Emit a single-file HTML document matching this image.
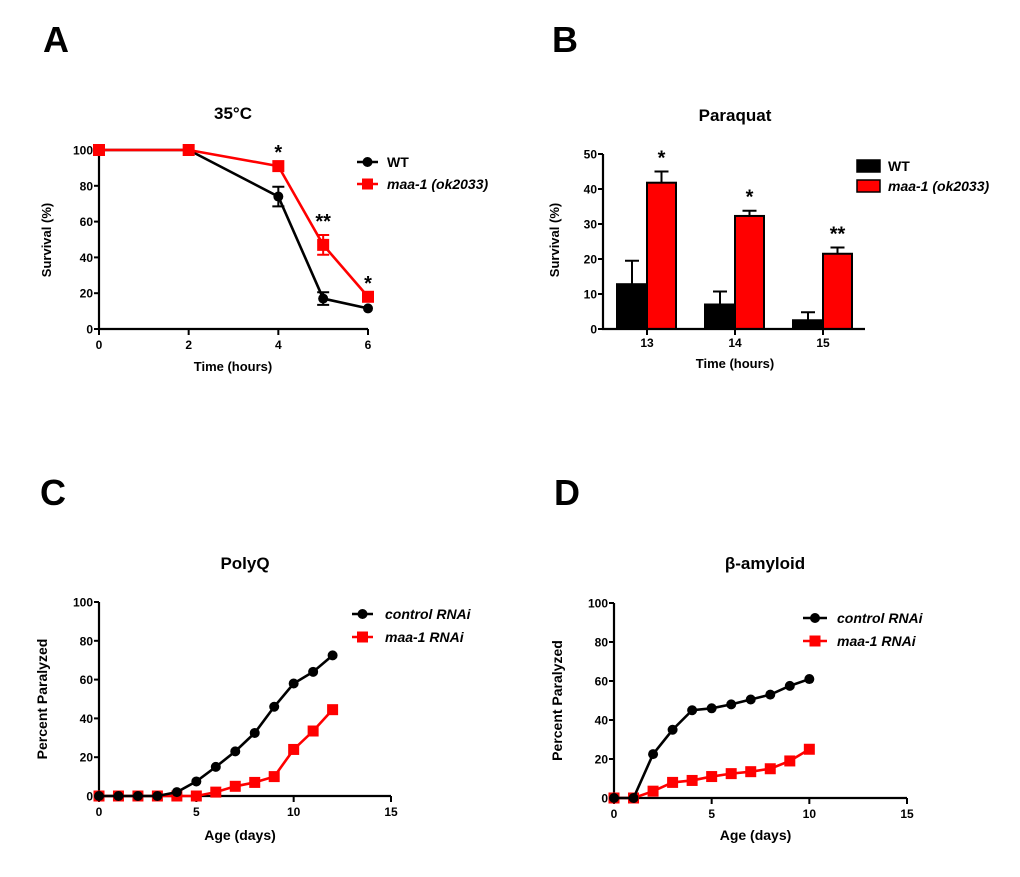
<!DOCTYPE html>
<html><head><meta charset="utf-8">
<style>
html,body{margin:0;padding:0;background:#fff;}
svg{display:block;font-family:"Liberation Sans",Arial,sans-serif;font-weight:bold;}
</style></head>
<body>
<svg id="fig" width="1020" height="877" viewBox="0 0 1020 877" xmlns="http://www.w3.org/2000/svg">
<text x="43" y="52" font-size="36">A</text>
<text x="552" y="52" font-size="36">B</text>
<text x="40" y="505" font-size="36">C</text>
<text x="554" y="505" font-size="36">D</text>
</svg>
<script>
// ---- Panel A data ----
const aTimes = [0, 2, 4, 5, 6];
const aWT = [100, 100, 74, 17, 11.5];
const aWTErr = [0, 0, 5.5, 3.5, 0];
const aMaa = [100, 100, 91, 47, 18];
const aMaaErr = [0, 0, 0, 5.5, 0];
const aXTicks = [0, 2, 4, 6];
const aYTicks = [0, 20, 40, 60, 80, 100];
const aStars = ["", "", "*", "**", "*"];
// ---- Panel B data ----
const bCats = ["13", "14", "15"];
const bWT = [12.8, 7, 2.5];
const bWTErr = [6.7, 3.7, 2.3];
const bMaa = [41.8, 32.3, 21.5];
const bMaaErr = [3.2, 1.5, 1.8];
const bYTicks = [0, 10, 20, 30, 40, 50];
const bStars = ["*", "*", "**"];
// ---- Panel C data ----
const cDays = [0,1,2,3,4,5,6,7,8,9,10,11,12];
const cControl = [0,0,0,0,2,7.5,15,23,32.5,46,58,64,72.5];
const cMaa = [0,0,0,0,0,0,2,5,7,10,24,33.5,44.5];
// ---- Panel D data ----
const dDays = [0,1,2,3,4,5,6,7,8,9,10];
const dControl = [0,0,22.5,35,45,46,48,50.5,53,57.5,61];
const dMaa = [0,0,3.5,8,9,11,12.5,13.5,15,19,25];
const xTicks15 = [0, 5, 10, 15];
const yTicks100 = [0, 20, 40, 60, 80, 100];

const NS = "http://www.w3.org/2000/svg";
const svg = document.getElementById('fig');
function mk(tag, attrs, parent) {
  const e = document.createElementNS(NS, tag);
  for (const k in attrs) e.setAttribute(k, attrs[k]);
  (parent || svg).appendChild(e);
  return e;
}
function txt(x, y, s, size, anchor, parent, extra) {
  const t = mk('text', Object.assign({x: x, y: y, 'font-size': size, 'text-anchor': anchor || 'middle'}, extra || {}), parent);
  t.textContent = s;
  return t;
}
function lin(x0, x1, d0, d1) { return v => x0 + (v - d0) * (x1 - x0) / (d1 - d0); }

function axes(g, X, Y, xL, xR, yT, yB, xTicks, yTicks, xLabelFmt) {
  const ax = mk('path', {d: `M${xL} ${yT} V${yB} H${xR}`, stroke: '#000', 'stroke-width': 2.2, fill: 'none'}, g);
  
  
  yTicks.forEach(v => {
    const l = mk('line', {x1: xL - 5, x2: xL, y1: Y(v), y2: Y(v), stroke: '#000', 'stroke-width': 2}, g);
    
    
    const t = txt(xL - 6, Y(v) + 4.5, String(v), 12, 'end', g);
    
    
  });
  if (xTicks) xTicks.forEach(v => {
    const l = mk('line', {x1: X(v), x2: X(v), y1: yB, y2: yB + 6, stroke: '#000', 'stroke-width': 2}, g);
    
    
    const t = txt(X(v), yB + 20, String(v), 12, 'middle', g);
    
    
  });
}
function series(g, X, Y, xs, ys, color, shape, name, r) {
  const d = xs.map((x, i) => (i ? 'L' : 'M') + X(x) + ' ' + Y(ys[i])).join(' ');
  const p = mk('path', {d: d, stroke: color, 'stroke-width': 2.6, fill: 'none'}, g);
  
  
  xs.forEach((x, i) => marker(g, X(x), Y(ys[i]), color, shape, name, r));
}
function marker(g, cx, cy, color, shape, name, r) {
  let m;
  if (shape === 'circle') m = mk('circle', {cx: cx, cy: cy, r: r || 5, fill: color}, g);
  else m = mk('rect', {x: cx - (r || 5.5), y: cy - (r || 5.5), width: 2 * (r || 5.5), height: 2 * (r || 5.5), fill: color}, g);
  
  
}
function errbar(g, x, yv, yLo, yHi, color, w) {
  const e = mk('path', {d: `M${x} ${yLo} V${yHi} M${x - w} ${yLo} H${x + w} M${x - w} ${yHi} H${x + w}`, stroke: color, 'stroke-width': 2, fill: 'none'}, g);
  
  
}
function legendLine(g, x0, x1, y, color, shape, label, tx, name) {
  const l = mk('line', {x1: x0, x2: x1, y1: y, y2: y, stroke: color, 'stroke-width': 2.6}, g);
  
  
  marker(g, (x0 + x1) / 2, y, color, shape, name + '-legend', shape === 'circle' ? 5 : 5.5);
  const t = txt(tx, y + 5, label, 14, 'start', g, label === 'WT' ? {} : {'font-style': 'italic'});
  
  
}

// ===== Panel A =====
(function () {
  const g = mk('g', {});
  
  
  const X = lin(99, 368, 0, 6), Y = lin(329, 150, 0, 100);
  const t = txt(233, 119, '35°C', 17, 'middle', g);
  
  
  axes(g, X, Y, 99, 368, 150, 329, aXTicks, aYTicks);
  const xl = txt(233, 371, 'Time (hours)', 13, 'middle', g);
  
  
  const yl = txt(0, 0, 'Survival (%)', 13, 'middle', g, {transform: 'translate(51,240) rotate(-90)'});
  
  
  aTimes.forEach((x, i) => { if (aWTErr[i]) errbar(g, X(x), 0, Y(aWT[i] - aWTErr[i]), Y(aWT[i] + aWTErr[i]), '#000', 6); });
  aTimes.forEach((x, i) => { if (aMaaErr[i]) errbar(g, X(x), 0, Y(aMaa[i] - aMaaErr[i]), Y(aMaa[i] + aMaaErr[i]), '#f00', 6); });
  series(g, X, Y, aTimes, aWT, '#000', 'circle', 'wt', 5);
  series(g, X, Y, aTimes, aMaa, '#f00', 'square', 'maa-1', 6);
  aTimes.forEach((x, i) => {
    if (!aStars[i]) return;
    const top = Math.max(aMaa[i] + aMaaErr[i], aWT[i] + aWTErr[i]);
    const s = txt(X(x), Y(top) - 7, aStars[i], 20, 'middle', g);
    
    
  });
  legendLine(g, 357, 378, 162, '#000', 'circle', 'WT', 387, 'wt');
  legendLine(g, 357, 378, 184, '#f00', 'square', 'maa-1 (ok2033)', 387, 'maa-1');
})();

// ===== Panel B =====
(function () {
  const g = mk('g', {});
  
  
  const Y = lin(329, 154, 0, 50);
  const cx = i => 647 + i * 88;
  const t = txt(735, 121, 'Paraquat', 17, 'middle', g);
  
  
  bCats.forEach((c, i) => {
    // error bars (upper only)
    const e1 = mk('path', {d: `M${cx(i) - 15} ${Y(bWT[i])} V${Y(bWT[i] + bWTErr[i])} M${cx(i) - 22} ${Y(bWT[i] + bWTErr[i])} H${cx(i) - 8}`, stroke: '#000', 'stroke-width': 2, fill: 'none'}, g);
    
    
    const e2 = mk('path', {d: `M${cx(i) + 14.5} ${Y(bMaa[i])} V${Y(bMaa[i] + bMaaErr[i])} M${cx(i) + 7.5} ${Y(bMaa[i] + bMaaErr[i])} H${cx(i) + 21.5}`, stroke: '#000', 'stroke-width': 2, fill: 'none'}, g);
    
    
    const b1 = mk('rect', {x: cx(i) - 30, y: Y(bWT[i]), width: 30, height: Y(0) - Y(bWT[i]), fill: '#000', stroke: '#000', 'stroke-width': 2}, g);
    
    
    const b2 = mk('rect', {x: cx(i), y: Y(bMaa[i]), width: 29, height: Y(0) - Y(bMaa[i]), fill: '#f00', stroke: '#000', 'stroke-width': 2}, g);
    
    
    const s = txt(cx(i) + 14.5, Y(bMaa[i] + bMaaErr[i]) - 7, bStars[i], 20, 'middle', g);
    
    
    const tk = mk('line', {x1: cx(i), x2: cx(i), y1: 329, y2: 335, stroke: '#000', 'stroke-width': 2}, g);
    
    
    const tl = txt(cx(i), 347, c, 12, 'middle', g);
    
    
  });
  axes(g, null, Y, 603, 865, 154, 329, null, bYTicks);
  const xl = txt(735, 368, 'Time (hours)', 13, 'middle', g);
  
  
  const yl = txt(0, 0, 'Survival (%)', 13, 'middle', g, {transform: 'translate(559,240) rotate(-90)'});
  
  
  const l1 = mk('rect', {x: 857, y: 160, width: 23, height: 12, fill: '#000', stroke: '#000', 'stroke-width': 1.5}, g);
  
  
  const t1 = txt(888, 171, 'WT', 14, 'start', g);
  
  
  const l2 = mk('rect', {x: 857, y: 180, width: 23, height: 12, fill: '#f00', stroke: '#000', 'stroke-width': 1.5}, g);
  
  
  const t2 = txt(888, 191, 'maa-1 (ok2033)', 14, 'start', g, {'font-style': 'italic'});
  
  
})();

// ===== Panels C and D =====
function paralysis(name, title, titleX, xL, xR, yT, yB, days, ctrl, maa, legX0, legX1, legY, legTX) {
  const g = mk('g', {});
  
  
  const X = lin(xL, xR, 0, 15), Y = lin(yB, yT, 0, 100);
  const t = txt(titleX, 569, title, 17, 'middle', g);
  
  
  axes(g, X, Y, xL, xR, yT, yB, xTicks15, yTicks100);
  const xl = txt((xL + xR) / 2 - 5, 840, 'Age (days)', 14, 'middle', g);
  
  
  const yl = txt(0, 0, 'Percent Paralyzed', 14, 'middle', g, {transform: `translate(${xL - 52},${(yT + yB) / 2}) rotate(-90)`});
  
  
  series(g, X, Y, days, maa, '#f00', 'square', 'maa-1-rnai', 5.5);
  series(g, X, Y, days, ctrl, '#000', 'circle', 'control-rnai', 5);
  legendLine(g, legX0, legX1, legY, '#000', 'circle', 'control RNAi', legTX, 'control-rnai');
  legendLine(g, legX0, legX1, legY + 23, '#f00', 'square', 'maa-1 RNAi', legTX, 'maa-1-rnai');
}
paralysis('panel-c-polyq-chart', 'PolyQ', 245, 99, 391, 602, 796, cDays, cControl, cMaa, 352, 373, 614, 385);
paralysis('panel-d-beta-amyloid-chart', 'β-amyloid', 765, 614, 907, 603, 798, dDays, dControl, dMaa, 803, 827, 618, 837);
</script>
</body></html>
